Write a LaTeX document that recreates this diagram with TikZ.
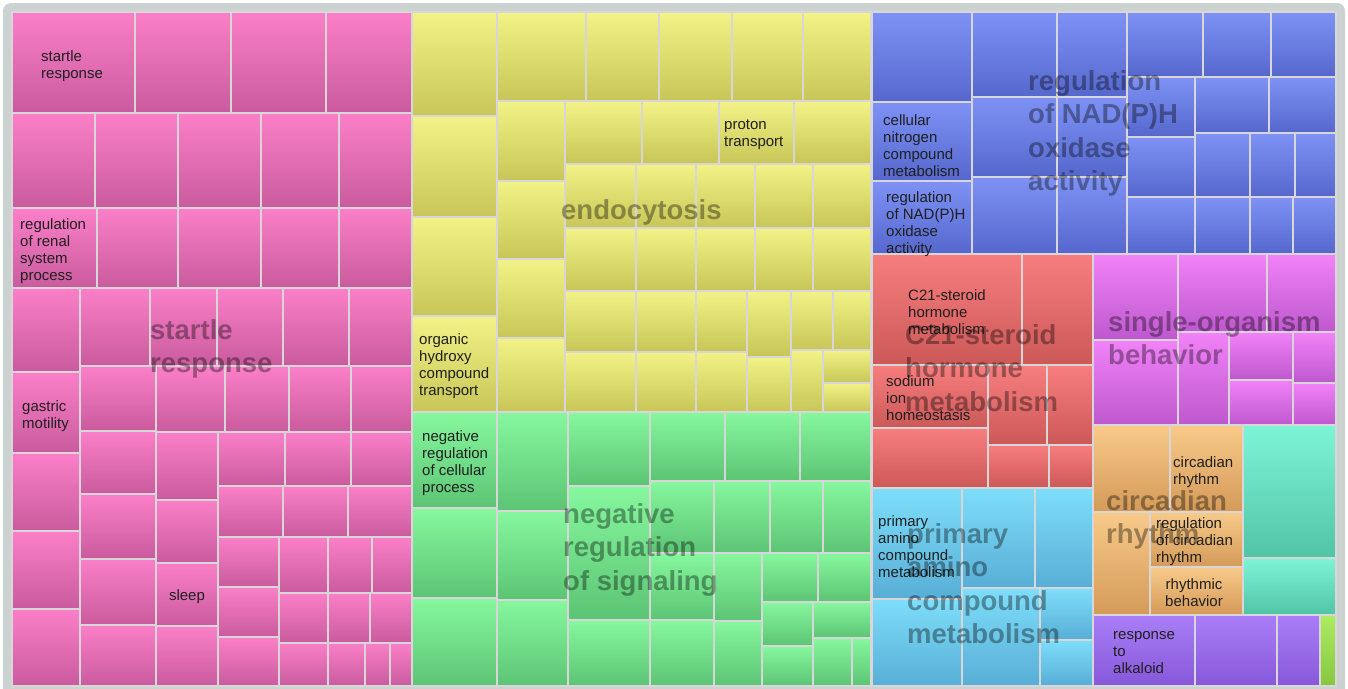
\documentclass[tikz,border=0pt]{standalone}
\usepackage{fontspec}
\setmainfont{Liberation Sans}
\usepackage{xcolor}
\usepackage{tikz}
\definecolor{framegray}{HTML}{CBD2CF}
\definecolor{cellline}{HTML}{D9D6DA}
\definecolor{pinkT}{HTML}{FB7FC8}
\definecolor{pinkB}{HTML}{C95B9D}
\definecolor{yellowT}{HTML}{F2F286}
\definecolor{yellowB}{HTML}{C8C658}
\definecolor{greenT}{HTML}{86F89E}
\definecolor{greenB}{HTML}{5CC474}
\definecolor{blueT}{HTML}{7E92F6}
\definecolor{blueB}{HTML}{5567CC}
\definecolor{redT}{HTML}{F87E7E}
\definecolor{redB}{HTML}{CC5858}
\definecolor{magT}{HTML}{F282F8}
\definecolor{magB}{HTML}{BE58CE}
\definecolor{orangeT}{HTML}{F8CA8A}
\definecolor{orangeB}{HTML}{D49A58}
\definecolor{tealT}{HTML}{7EF4D6}
\definecolor{tealB}{HTML}{52C4A6}
\definecolor{cyanT}{HTML}{7EDEFA}
\definecolor{cyanB}{HTML}{58AED6}
\definecolor{purpleT}{HTML}{AA7EF8}
\definecolor{purpleB}{HTML}{8658DA}
\definecolor{limeT}{HTML}{AEEC60}
\definecolor{limeB}{HTML}{86C640}

\begin{document}
\begin{tikzpicture}[x=1pt, y=-1pt,
          cell/.style 2 args={top color=#1, bottom color=#2,
                              draw=cellline, line width=1.4pt},
          small/.style={inner sep=0pt, align=left, text=black!88,
                        font=\fontsize{15}{17}\selectfont},
          big/.style={inner sep=0pt, align=left, text=black,
                      text opacity=0.36,
                      font=\fontsize{27.5}{33.5}\selectfont\bfseries}
        ]
        \useasboundingbox (0,0) rectangle (1348,688);
        %% Outer frame
        \fill[framegray, rounded corners=8pt] (3,3) rectangle (1345,700);
        %% Startle response cells
        \foreach \xa/\ya/\xb/\yb in {12/12/135/113, 135/12/231/113,
            231/12/326/113, 326/12/412/113,
            12/113/95/208, 95/113/178/208, 178/113/261/208,
            261/113/339/208, 339/113/412/208,
            12/208/97/288, 97/208/178/288, 178/208/261/288,
            261/208/339/288, 339/208/412/288,
            12/288/80/372, 80/288/150/366, 150/288/217/366,
            217/288/283/366, 283/288/349/366, 349/288/412/366,
            12/372/80/453, 12/453/80/531, 12/531/80/609, 12/609/80/686,
            80/366/156/431, 156/366/225/432, 225/366/289/432,
            289/366/351/432, 351/366/412/432,
            80/431/156/494, 80/494/156/559, 80/559/156/625, 80/625/156/686,
            156/432/218/500, 156/500/218/563, 156/563/218/626,
            156/626/218/686,
            218/432/285/486, 285/432/351/486, 351/432/412/486,
            218/486/283/537, 283/486/348/537, 348/486/412/537,
            218/537/279/587, 218/587/279/637, 218/637/279/686,
            279/537/328/593, 328/537/372/593, 372/537/412/593,
            279/593/328/643, 328/593/370/643, 370/593/412/643,
            279/643/328/686, 328/643/365/686, 365/643/390/686,
            390/643/412/686}
          \path[cell={pinkT}{pinkB}] (\xa,\ya) rectangle (\xb,\yb);
        %% Endocytosis cells
        \foreach \xa/\ya/\xb/\yb in {412/12/497/116, 412/116/497/217,
            412/217/497/316, 412/316/497/412,
            497/12/586/101, 586/12/659/101, 659/12/732/101,
            732/12/803/101, 803/12/871/101,
            497/101/565/181, 497/181/565/259, 497/259/565/338,
            497/338/565/412,
            565/101/642/164, 642/101/719/164, 719/101/794/164,
            794/101/871/164,
            565/164/636/228, 636/164/696/228, 696/164/755/228,
            755/164/813/228, 813/164/871/228,
            565/228/636/291, 636/228/696/291, 696/228/755/291,
            755/228/813/291, 813/228/871/291,
            565/291/636/352, 636/291/696/352, 696/291/747/352,
            747/291/791/357, 791/291/833/350, 833/291/871/350,
            565/352/636/412, 636/352/696/412, 696/352/747/412,
            747/357/791/412, 791/350/823/412, 823/350/871/383,
            823/383/871/412}
          \path[cell={yellowT}{yellowB}] (\xa,\ya) rectangle (\xb,\yb);
        %% Negative regulation of signaling cells
        \foreach \xa/\ya/\xb/\yb in {412/412/497/508, 412/508/497/598,
            412/598/497/686,
            497/412/568/511, 497/511/568/600, 497/600/568/686,
            568/412/650/486, 568/486/650/620, 568/620/650/686,
            650/412/725/481, 725/412/800/481, 800/412/871/481,
            650/481/714/553, 714/481/770/553, 770/481/823/553,
            823/481/871/553,
            650/553/714/620, 650/620/714/686,
            714/553/762/621, 714/621/762/686,
            762/553/818/602, 818/553/871/602,
            762/602/813/646, 762/646/813/686,
            813/602/871/638, 813/638/852/686, 852/638/871/686}
          \path[cell={greenT}{greenB}] (\xa,\ya) rectangle (\xb,\yb);
        %% NAD(P)H oxidase cells
        \foreach \xa/\ya/\xb/\yb in {872/12/972/102, 872/102/972/181,
            872/181/972/254,
            972/12/1057/97, 972/97/1057/177, 972/177/1057/254,
            1057/12/1127/97, 1057/97/1127/177, 1057/177/1127/254,
            1127/12/1203/77, 1203/12/1271/77, 1271/12/1336/77,
            1127/77/1195/137, 1127/137/1195/197,
            1195/77/1269/133, 1269/77/1336/133,
            1195/133/1250/197, 1250/133/1295/197, 1295/133/1336/197,
            1127/197/1195/254, 1195/197/1250/254, 1250/197/1293/254,
            1293/197/1336/254}
          \path[cell={blueT}{blueB}] (\xa,\ya) rectangle (\xb,\yb);
        %% C21-steroid cells
        \foreach \xa/\ya/\xb/\yb in {872/254/1022/365, 1022/254/1093/365,
            872/365/988/428, 872/428/988/488,
            988/365/1047/445, 1047/365/1093/445,
            988/445/1049/488, 1049/445/1093/488}
          \path[cell={redT}{redB}] (\xa,\ya) rectangle (\xb,\yb);
        %% Single-organism behavior cells
        \foreach \xa/\ya/\xb/\yb in {1093/254/1178/340, 1093/340/1178/425,
            1178/254/1267/332, 1267/254/1336/332,
            1178/332/1229/425,
            1229/332/1293/380, 1229/380/1293/425,
            1293/332/1336/383, 1293/383/1336/425}
          \path[cell={magT}{magB}] (\xa,\ya) rectangle (\xb,\yb);
        %% Circadian rhythm cells
        \foreach \xa/\ya/\xb/\yb in {1093/425/1170/512, 1170/425/1243/512,
            1093/512/1150/615, 1150/512/1243/567, 1150/567/1243/615}
          \path[cell={orangeT}{orangeB}] (\xa,\ya) rectangle (\xb,\yb);
        \foreach \xa/\ya/\xb/\yb in {1243/425/1336/558, 1243/558/1336/615}
          \path[cell={tealT}{tealB}] (\xa,\ya) rectangle (\xb,\yb);
        %% Primary amino compound cells
        \foreach \xa/\ya/\xb/\yb in {872/488/962/599, 872/599/962/686,
            962/488/1035/588, 1035/488/1093/588,
            962/588/1040/686, 1040/588/1093/640, 1040/640/1093/686}
          \path[cell={cyanT}{cyanB}] (\xa,\ya) rectangle (\xb,\yb);
        %% Response to alkaloid cells
        \foreach \xa/\ya/\xb/\yb in {1093/615/1195/686, 1195/615/1277/686,
            1277/615/1320/686}
          \path[cell={purpleT}{purpleB}] (\xa,\ya) rectangle (\xb,\yb);
        \path[cell={limeT}{limeB}] (1320,615) rectangle (1336,686);

        %% Small term labels
        \node[small, anchor=north west] (startleS) at (41,50) {startle\\response};
        \node[small, anchor=north west] (renal) at (20,218)
              {regulation\\of renal\\system\\process};
        \node[small, anchor=north west] (gastric) at (22,400) {gastric\\motility};
        \node[small] (sleep) at (187,597) {sleep};
        \node[small, anchor=north west] (proton) at (724,120) {proton\\transport};
        \node[small, anchor=north west] (hydroxy) at (419,333)
              {organic\\hydroxy\\compound\\transport};
        \node[small, anchor=north west] (negcell) at (422,430)
              {negative\\regulation\\of cellular\\process};
        \node[small, anchor=north west] (nitrogen) at (883,114)
              {cellular\\nitrogen\\compound\\metabolism};
        \node[small, anchor=north west] (nadphS) at (886,191)
              {regulation\\of NAD(P)H\\oxidase\\activity};
        \node[small, anchor=north west] (steroidS) at (908,289)
              {C21-steroid\\hormone\\metabolism};
        \node[small, anchor=north west] (sodium) at (886,375)
              {sodium\\ion\\homeostasis};
        \node[small, anchor=north west] (aminoS) at (878,515)
              {primary\\amino\\compound\\metabolism};
        \node[small, anchor=north west] (circS) at (1173,456) {circadian\\rhythm};
        \node[small, anchor=north west] (regcirc) at (1156,517)
              {regulation\\of circadian\\rhythm};
        \node[small, anchor=north, align=center] (rhythmic) at (1194,578)
              {rhythmic\\behavior};
        \node[small, anchor=north west] (alkaloid) at (1113,631)
              {response\\to\\alkaloid};

        %% Cluster labels
        \node[big, anchor=north west] (startleB) at (150,319) {startle\\response};
        \node[big, anchor=north west] (endo) at (561,199) {endocytosis};
        \node[big, anchor=north west] (negsig) at (563,503)
              {negative\\regulation\\of signaling};
        \node[big, anchor=north west] (nadphB) at (1028,70)
              {regulation\\of NAD(P)H\\oxidase\\activity};
        \node[big, anchor=north west] (steroidB) at (905,324)
              {C21-steroid\\hormone\\metabolism};
        \node[big, anchor=north west] (organism) at (1108,311)
              {single-organism\\behavior};
        \node[big, anchor=north west] (circB) at (1106,490) {circadian\\rhythm};
        \node[big, anchor=north west] (aminoB) at (907,523)
              {primary\\amino\\compound\\metabolism};
      \end{tikzpicture}
\end{document}
